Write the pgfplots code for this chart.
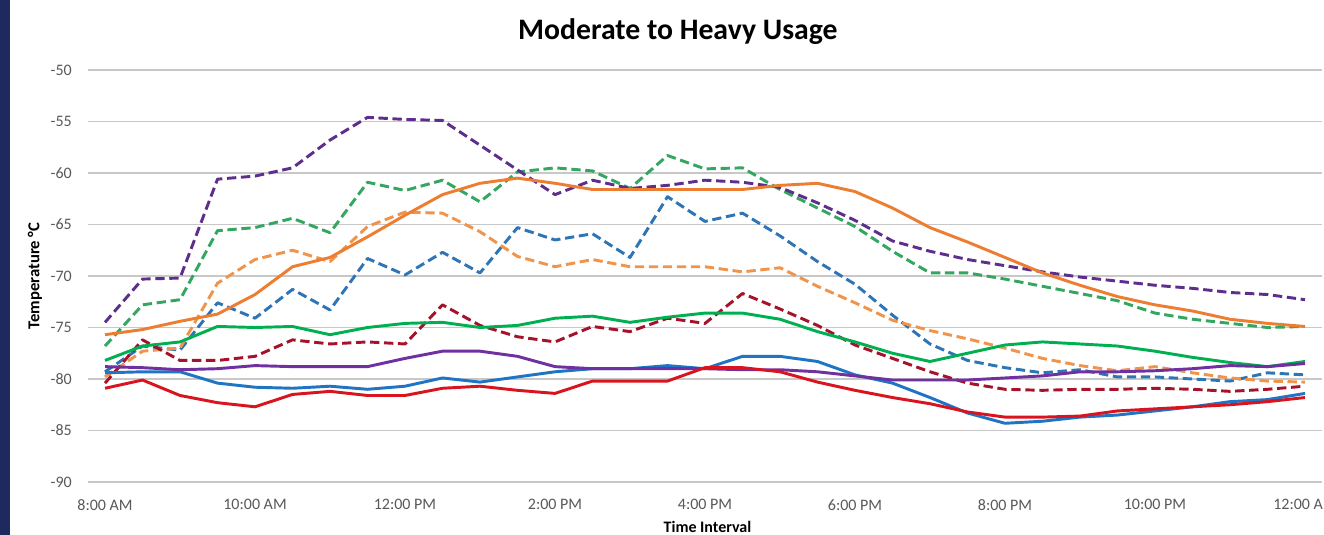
\documentclass[border=0pt]{standalone}
\usepackage{fontspec}
\setmainfont{Carlito}
\usepackage{pgfplots}
\pgfplotsset{compat=1.18}
\usepackage{pgfplotstable}

\definecolor{navy}{HTML}{1E2A5E}
\definecolor{gridc}{HTML}{C8C8C8}
\definecolor{ticktxt}{HTML}{595959}
\definecolor{cbs}{HTML}{1F74C4}
\definecolor{cbd}{HTML}{2E75B6}
\definecolor{cos}{HTML}{ED7D31}
\definecolor{cod}{HTML}{F0944C}
\definecolor{cgs}{HTML}{00B050}
\definecolor{cgd}{HTML}{33A65F}
\definecolor{cps}{HTML}{7030A0}
\definecolor{cpd}{HTML}{5E2E8C}
\definecolor{crs}{HTML}{D9141E}
\definecolor{crd}{HTML}{A5122A}

% time in hours (8 = 8:00 AM, 24 = 12:00 AM); b/o/g/p/r = blue/orange/green/purple/red, s = solid, d = dashed
\pgfplotstableread{
t     bs     bd     os     od     gs     gd     ps     pd     rs     rd
8.0  -79.4  -79.3  -75.7  -79.8  -78.2  -76.8  -78.8  -74.5  -80.9  -80.4
8.5  -79.3  -76.8  -75.2  -77.3  -76.8  -72.8  -78.9  -70.3  -80.1  -76.2
9.0  -79.3  -77.2  -74.4  -77.0  -76.4  -72.3  -79.1  -70.2  -81.6  -78.2
9.5  -80.4  -72.6  -73.7  -70.7  -74.9  -65.6  -79.0  -60.6  -82.3  -78.2
10.0 -80.8  -74.1  -71.8  -68.4  -75.0  -65.3  -78.7  -60.3  -82.7  -77.8
10.5 -80.9  -71.3  -69.1  -67.5  -74.9  -64.4  -78.8  -59.5  -81.5  -76.2
11.0 -80.7  -73.3  -68.2  -68.6  -75.7  -65.8  -78.8  -56.8  -81.2  -76.6
11.5 -81.0  -68.3  -66.2  -65.2  -75.0  -60.9  -78.8  -54.6  -81.6  -76.4
12.0 -80.7  -69.9  -64.1  -63.8  -74.6  -61.7  -78.0  -54.8  -81.6  -76.6
12.5 -79.9  -67.7  -62.1  -63.9  -74.5  -60.7  -77.3  -54.9  -80.9  -72.8
13.0 -80.3  -69.7  -61.0  -65.7  -75.0  -62.8  -77.3  -57.3  -80.7  -74.8
13.5 -79.8  -65.3  -60.5  -68.1  -74.8  -59.9  -77.8  -59.7  -81.1  -75.9
14.0 -79.3  -66.5  -61.0  -69.1  -74.1  -59.5  -78.8  -62.1  -81.4  -76.4
14.5 -79.0  -65.9  -61.6  -68.4  -73.9  -59.8  -79.0  -60.7  -80.2  -74.9
15.0 -79.0  -68.2  -61.6  -69.1  -74.5  -61.5  -79.0  -61.5  -80.2  -75.4
15.5 -78.7  -62.3  -61.6  -69.1  -74.0  -58.3  -79.0  -61.2  -80.2  -74.1
16.0 -79.0  -64.7  -61.6  -69.1  -73.6  -59.6  -79.0  -60.7  -78.9  -74.6
16.5 -77.8  -63.9  -61.6  -69.6  -73.6  -59.5  -79.1  -60.9  -78.9  -71.7
17.0 -77.8  -66.1  -61.2  -69.2  -74.2  -61.6  -79.1  -61.4  -79.3  -73.2
17.5 -78.3  -68.6  -61.0  -71.0  -75.4  -63.4  -79.3  -62.9  -80.3  -74.8
18.0 -79.6  -70.8  -61.8  -72.6  -76.4  -65.2  -79.7  -64.6  -81.1  -76.7
18.5 -80.4  -73.8  -63.4  -74.3  -77.5  -67.6  -80.1  -66.6  -81.8  -78.0
19.0 -81.8  -76.6  -65.3  -75.3  -78.3  -69.7  -80.1  -67.6  -82.4  -79.3
19.5 -83.3  -78.2  -66.7  -76.1  -77.5  -69.7  -80.1  -68.4  -83.2  -80.4
20.0 -84.3  -78.9  -68.2  -77.0  -76.7  -70.3  -79.9  -69.0  -83.7  -81.0
20.5 -84.1  -79.4  -69.7  -78.0  -76.4  -71.0  -79.7  -69.6  -83.7  -81.1
21.0 -83.7  -79.1  -70.9  -78.7  -76.6  -71.7  -79.3  -70.1  -83.6  -81.0
21.5 -83.5  -79.8  -72.0  -79.2  -76.8  -72.4  -79.3  -70.5  -83.1  -81.0
22.0 -83.1  -79.8  -72.8  -78.8  -77.3  -73.6  -79.2  -70.9  -82.9  -80.9
22.5 -82.7  -80.0  -73.4  -79.4  -77.9  -74.2  -79.0  -71.2  -82.7  -81.0
23.0 -82.2  -80.2  -74.2  -79.9  -78.4  -74.6  -78.7  -71.6  -82.5  -81.2
23.5 -82.0  -79.4  -74.6  -80.2  -78.8  -75.0  -78.8  -71.8  -82.2  -81.0
24.0 -81.4  -79.6  -74.9  -80.3  -78.3  -74.9  -78.5  -72.3  -81.8  -80.7
}\temps

\begin{document}
\begin{tikzpicture}
% canvas 1324x535 px, 1px = 0.75pt
\useasboundingbox (0,0) rectangle (993pt,401.25pt);
\fill[white] (0,0) rectangle (993pt,401.25pt);
\fill[navy] (0,0) rectangle (7.5pt,401.25pt);
\begin{axis}[
  at={(66pt,39.75pt)}, anchor=south west,
  scale only axis, width=925.5pt, height=309pt,
  xmin=7.773, xmax=24.227, ymin=-90, ymax=-50,
  xtick={8,10,...,24},
  xticklabels={8:00 AM,10:00 AM,12:00 PM,2:00 PM,4:00 PM,6:00 PM,8:00 PM,10:00 PM,12:00 AM},
  ytick={-90,-85,...,-50},
  ymajorgrids, major grid style={gridc, line width=1.2pt},
  axis line style={draw=none}, tick style={draw=none},
  /pgf/number format/assume math mode=true,
  ticklabel style={font=\fontsize{12}{14}\selectfont, text=ticktxt},
  yticklabel style={anchor=east, inner sep=0pt, xshift=-12pt},
  xticklabel style={anchor=north, inner sep=0pt, yshift=-13pt},
  title={Moderate to Heavy Usage},
  title style={at={(axis description cs:0.478,1.075)}, anchor=center, font=\fontsize{22.3}{25}\selectfont\bfseries},
  xlabel={Time Interval},
  xlabel style={at={(axis description cs:0.502,-0.109)}, anchor=center, font=\fontsize{12}{14}\selectfont\bfseries},
  ylabel={Temperature °C},
  ylabel style={at={(axis description cs:-0.043,0.5)}, anchor=center, rotate=0, font=\fontsize{12.5}{14}\selectfont\bfseries},
  every axis plot/.append style={line width=2.2pt, line join=round},
  dsh/.style={dash pattern=on 7pt off 3.5pt},
]
\addplot[cbd, dsh] table[x=t, y=bd] {\temps};
\addplot[cod, dsh] table[x=t, y=od] {\temps};
\addplot[cgd, dsh] table[x=t, y=gd] {\temps};
\addplot[cpd, dsh] table[x=t, y=pd] {\temps};
\addplot[crd, dsh] table[x=t, y=rd] {\temps};
\addplot[cbs] table[x=t, y=bs] {\temps};
\addplot[cos] table[x=t, y=os] {\temps};
\addplot[cgs] table[x=t, y=gs] {\temps};
\addplot[cps] table[x=t, y=ps] {\temps};
\addplot[crs] table[x=t, y=rs] {\temps};
\end{axis}
\end{tikzpicture}
\end{document}
